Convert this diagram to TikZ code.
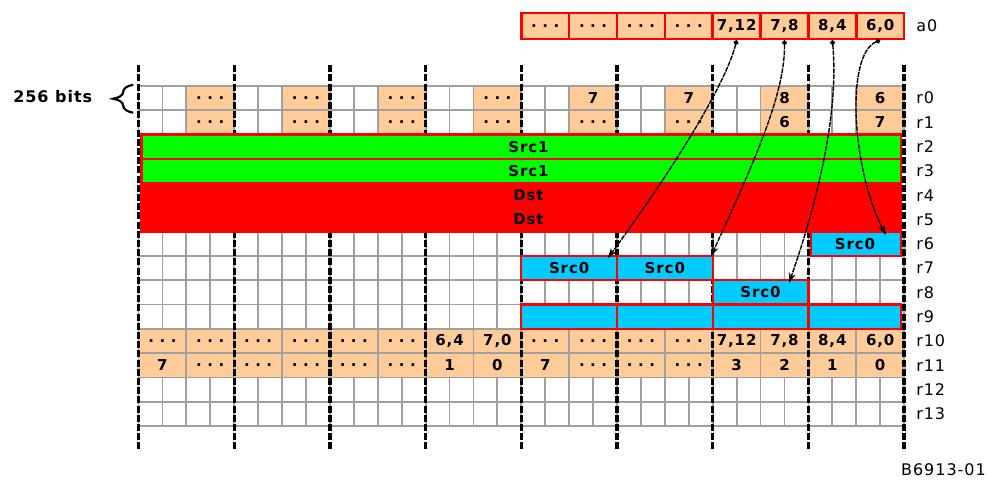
\documentclass[tikz,border=0pt]{standalone}
\usepackage{fontspec}
\setmainfont{DejaVu Sans}
\newfontfamily\cellfont[LetterSpace=6]{DejaVu Sans}
\newfontfamily\labfont[LetterSpace=6]{DejaVu Sans}
\usetikzlibrary{arrows.meta,decorations.pathreplacing}
\definecolor{peach}{HTML}{FFCC99}
\definecolor{grn}{HTML}{00FF00}
\definecolor{rd}{HTML}{FF0000}
\definecolor{cyanb}{HTML}{00CCFF}
\definecolor{gridgray}{HTML}{A0A0A0}
\newcommand{\mydots}{.\kern5.5pt.\kern5.5pt.}
\tikzset{
  gridcell/.style={draw=gridgray, line width=1.8pt, fill=white},
  field/.style={draw=gridgray, line width=1.8pt, fill=peach},
  ctext/.style={font={\cellfont\bfseries\fontsize{15}{15}\selectfont}, inner sep=0pt},
  lbl/.style={font={\labfont\fontsize{16}{16}\selectfont}, inner sep=0pt},
  greenbar/.style={fill=grn, draw=rd, line width=2.5pt},
  redbar/.style={fill=rd, draw=rd, line width=2.5pt},
  bluebox/.style={fill=cyanb, draw=rd, line width=2.2pt},
  sepline/.style={line width=3.4pt, dash pattern=on 7pt off 2.2pt},
  a0cell/.style={draw=rd, fill=peach, line width=2.5pt, minimum width=47.85pt,
    minimum height=25.7pt, inner sep=0pt, font={\cellfont\bfseries\fontsize{15}{15}\selectfont}},
  conn/.style={line width=1.4pt, dash pattern=on 5pt off 1pt,
    {Circle[length=5pt]}-{Stealth[length=10pt,width=7pt]}},
}
\begin{document}
\begin{tikzpicture}[x=1pt,y=-1pt]
\fill[white] (0,0) rectangle (987,485);
\useasboundingbox (0,0) rectangle (987,485);
\begin{scope}[shift={(138.5,86)}, x=23.925pt, y=-24.286pt]
  % white grid rows
  \foreach \r in {0,1,6,7,8,9,10,11,12,13}
    \foreach \c in {0,...,31}
      \draw[gridcell] (\c,\r) rectangle ({\c+1},{\r+1});
  % r0 fields
  \foreach \g/\t in {0/\mydots,1/\mydots,2/\mydots,3/\mydots,4/7,5/7,6/8,7/6} {
    \draw[field] ({4*\g+2},0) rectangle ({4*\g+4},1);
    \node[ctext] (fa\g) at ({4*\g+3},0.5) {\t};
  }
  % r1 fields
  \foreach \g/\t in {0/\mydots,1/\mydots,2/\mydots,3/\mydots,4/\mydots,5/\mydots,6/6,7/7} {
    \draw[field] ({4*\g+2},1) rectangle ({4*\g+4},2);
    \node[ctext] (fb\g) at ({4*\g+3},1.5) {\t};
  }
  % r10 fields
  \foreach \j/\t in {0/\mydots,1/\mydots,2/\mydots,3/\mydots,4/\mydots,5/\mydots,6/{6,4},7/{7,0},
                     8/\mydots,9/\mydots,10/\mydots,11/\mydots,12/{7,12},13/{7,8},14/{8,4},15/{6,0}} {
    \draw[field] ({2*\j},10) rectangle ({2*\j+2},11);
    \node[ctext] (fc\j) at ({2*\j+1},10.5) {\t};
  }
  % r11 fields
  \foreach \j/\t in {0/7,1/\mydots,2/\mydots,3/\mydots,4/\mydots,5/\mydots,6/1,7/0,
                     8/7,9/\mydots,10/\mydots,11/\mydots,12/3,13/2,14/1,15/0} {
    \draw[field] ({2*\j},11) rectangle ({2*\j+2},12);
    \node[ctext] (fd\j) at ({2*\j+1},11.5) {\t};
  }
  % dword separators
  \foreach \g in {0,...,8}
    \draw[sepline] ({4*\g},-0.86) -- ({4*\g},15);
  % Src1 / Dst bars
  \draw[redbar] (0.12,4) rectangle (31.88,6);
  \draw[greenbar] (0.12,2) rectangle (31.88,3);
  \draw[greenbar] (0.12,3) rectangle (31.88,4);
  \node[ctext] (src1a) at (16.3,2.5) {Src1};
  \node[ctext] (src1b) at (16.3,3.5) {Src1};
  \node[ctext] (dsta) at (16.3,4.5) {Dst};
  \node[ctext] (dstb) at (16.3,5.5) {Dst};
  % Src0 boxes
  \draw[bluebox] (28.1,6) rectangle (31.88,7);
  \node[ctext] (s6) at (29.95,6.5) {Src0};
  \draw[bluebox] (16,7) rectangle (20,8);
  \node[ctext] (s7a) at (18,7.5) {Src0};
  \draw[bluebox] (20,7) rectangle (24,8);
  \node[ctext] (s7b) at (22,7.5) {Src0};
  \draw[bluebox] (24,8) rectangle (28,9);
  \node[ctext] (s8) at (26,8.5) {Src0};
  \draw[bluebox] (16,9) rectangle (20,10);
  \draw[bluebox] (20,9) rectangle (24,10);
  \draw[bluebox] (24,9) rectangle (28,10);
  \draw[bluebox] (28,9) rectangle (31.88,10);
  % a0 register
  \foreach \j/\t in {0/\mydots,1/\mydots,2/\mydots,3/\mydots,4/{7,12},5/{7,8},6/{8,4},7/{6,0}}
    \node[a0cell] (a0c\j) at ({2*\j+17},-2.47) {\t};
  % arrow targets
  \coordinate (t1) at (19.62,7.08);
  \coordinate (t2) at (23.93,7.0);
  \coordinate (t3) at (27.19,8.11);
  \coordinate (t4) at (31.24,6.13);
  \draw[conn] (a0c4.south) .. controls (24.6,-0.25) and (22.63,3.05) .. (t1);
  \draw[conn] (a0c5.south) .. controls (27.02,0.17) and (25.98,2.64) .. (t2);
  \draw[conn] (a0c6.south) .. controls (29.24,0.58) and (28.69,3.87) .. (t3);
  \draw[conn] (a0c7.south) .. controls (29.53,-1.28) and (29.82,3.46) .. (t4);
  % labels
  \foreach \r in {0,...,13}
    \node[lbl, anchor=west] (rl\r) at (32.5,{\r+0.5}) {r\r};
  \node[lbl, anchor=west] (a0l) at (32.5,-2.5) {a0};
  \node[lbl, anchor=east] (fig) at (35.42,15.81) {B6913-01};
  \node[ctext, anchor=east, font={\cellfont\bfseries\fontsize{16}{16}\selectfont}] (bits) at (-1.93,0.45) {256 bits};
  \draw[line width=2.2pt, decorate, decoration={brace, amplitude=20pt}] (-0.22,1.1) -- (-0.22,-0.05);
\end{scope}
\end{tikzpicture}
\end{document}
